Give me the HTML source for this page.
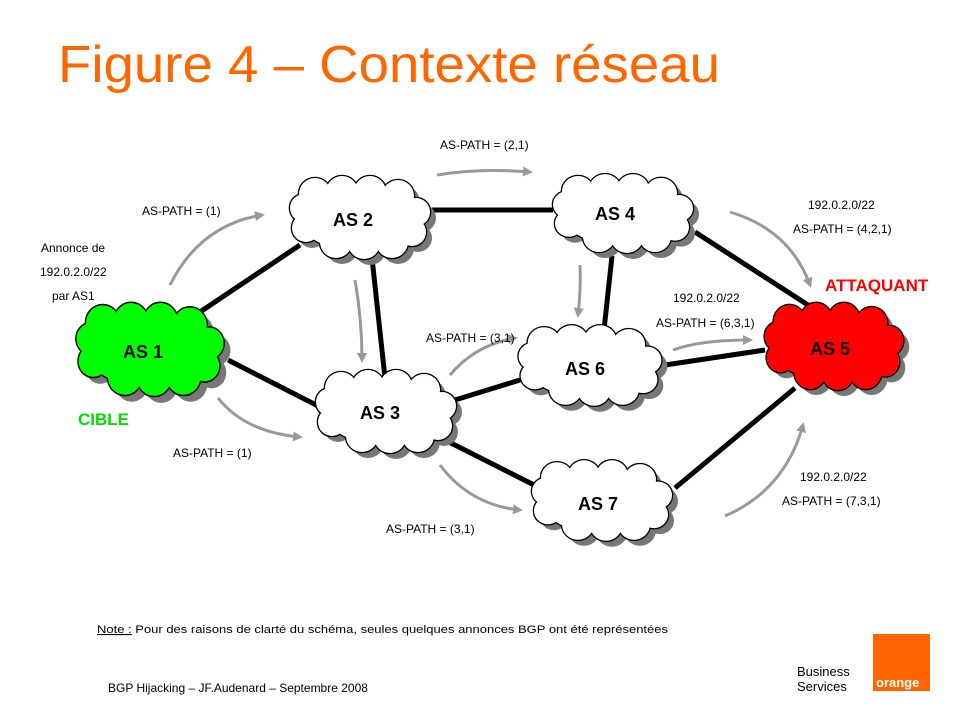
<!DOCTYPE html>
<html><head><meta charset="utf-8"><style>
body{margin:0;background:#fff;}
svg{display:block;font-family:"Liberation Sans",Arial,sans-serif;}
</style></head><body>
<svg width="960" height="720" viewBox="0 0 960 720" xmlns="http://www.w3.org/2000/svg">
<defs>
<g id="cl">
<circle cx="-45" cy="-24" r="16"/><circle cx="-18" cy="-26" r="16"/><circle cx="10" cy="-26" r="16"/><circle cx="38" cy="-22" r="16"/>
<circle cx="56" cy="-6" r="14"/><circle cx="52" cy="14" r="14"/>
<circle cx="32" cy="24" r="16"/><circle cx="4" cy="25" r="16"/><circle cx="-24" cy="24" r="16"/>
<circle cx="-54" cy="10" r="14"/><circle cx="-56" cy="-10" r="14"/>
<ellipse cx="0" cy="0" rx="61" ry="33"/>
</g>
<marker id="ar" markerWidth="10" markerHeight="10" refX="7" refY="5" orient="auto" markerUnits="userSpaceOnUse"><path d="M0,0 L10,5 L0,10 z" fill="#999"/></marker>
</defs>
<text x="58" y="82" font-size="52" fill="#ff6600" textLength="662" lengthAdjust="spacingAndGlyphs">Figure 4 – Contexte réseau</text>

<g stroke="#000" stroke-width="5" fill="none">
<line x1="200" y1="312" x2="300" y2="245"/><line x1="228" y1="360" x2="322" y2="408"/>
<line x1="432" y1="210" x2="553" y2="210"/><line x1="372" y1="258" x2="385" y2="378"/>
<line x1="695" y1="232" x2="808" y2="305"/><line x1="612" y1="256" x2="604" y2="330"/>
<line x1="455" y1="400" x2="520" y2="380"/><line x1="665" y1="365" x2="765" y2="350"/>
<line x1="445" y1="440" x2="540" y2="488"/><line x1="675" y1="488" x2="795" y2="388"/>
</g>
<g stroke="#999" stroke-width="3" fill="none" marker-end="url(#ar)">
<path d="M170,285 Q200,225 262,215"/><path d="M218,398 Q245,432 300,437"/>
<path d="M437,175 Q480,168 530,172"/><path d="M355,280 Q362,320 362,360"/>
<path d="M580,265 Q581,290 578,315"/><path d="M450,375 Q475,345 515,338"/>
<path d="M440,465 Q470,505 520,510"/><path d="M730,212 Q790,230 810,285"/>
<path d="M673,350 Q700,340 750,340"/><path d="M725,516 Q785,490 803,425"/>
</g>

<g>
<g transform="translate(157,357) scale(1.05,1.12)" fill="#777"><use href="#cl"/></g>
<g transform="translate(150,350) scale(1.05,1.12)" stroke="#000" stroke-width="2.6"><use href="#cl"/></g>
<g transform="translate(150,350) scale(1.05,1.12)" fill="#00ff00"><use href="#cl"/></g>
</g>
<g>
<g transform="translate(366,224)" fill="#777"><use href="#cl"/></g>
<g transform="translate(360,218)" stroke="#000" stroke-width="2.6"><use href="#cl"/></g>
<g transform="translate(360,218)" fill="#fff"><use href="#cl"/></g>
</g>
<g>
<g transform="translate(629,220) scale(1,0.95)" fill="#777"><use href="#cl"/></g>
<g transform="translate(623,214) scale(1,0.95)" stroke="#000" stroke-width="2.6"><use href="#cl"/></g>
<g transform="translate(623,214) scale(1,0.95)" fill="#fff"><use href="#cl"/></g>
</g>
<g>
<g transform="translate(596,372) scale(1.02,0.97)" fill="#777"><use href="#cl"/></g>
<g transform="translate(590,366) scale(1.02,0.97)" stroke="#000" stroke-width="2.6"><use href="#cl"/></g>
<g transform="translate(590,366) scale(1.02,0.97)" fill="#fff"><use href="#cl"/></g>
</g>
<g>
<g transform="translate(392,418)" fill="#777"><use href="#cl"/></g>
<g transform="translate(386,412)" stroke="#000" stroke-width="2.6"><use href="#cl"/></g>
<g transform="translate(386,412)" fill="#fff"><use href="#cl"/></g>
</g>
<g>
<g transform="translate(608,507) scale(1,0.97)" fill="#777"><use href="#cl"/></g>
<g transform="translate(602,501) scale(1,0.97)" stroke="#000" stroke-width="2.6"><use href="#cl"/></g>
<g transform="translate(602,501) scale(1,0.97)" fill="#fff"><use href="#cl"/></g>
</g>
<g>
<g transform="translate(840,353) scale(0.99,1.05)" fill="#777"><use href="#cl"/></g>
<g transform="translate(834,347) scale(0.99,1.05)" stroke="#000" stroke-width="2.6"><use href="#cl"/></g>
<g transform="translate(834,347) scale(0.99,1.05)" fill="#ff0000"><use href="#cl"/></g>
</g>

<g font-weight="bold" font-size="18" text-anchor="middle">
<text x="143" y="358">AS 1</text><text x="353" y="226">AS 2</text><text x="615" y="220">AS 4</text>
<text x="585" y="375">AS 6</text><text x="380" y="419">AS 3</text><text x="598" y="510">AS 7</text>
<text x="830" y="355">AS 5</text>
</g>
<text x="78" y="425" font-size="17" font-weight="bold" fill="#00dd00">CIBLE</text>
<text x="825" y="291" font-size="17" font-weight="bold" fill="#ff0000">ATTAQUANT</text>

<g font-size="12" fill="#000">
<text x="142" y="215">AS-PATH = (1)</text>
<text x="440" y="149">AS-PATH = (2,1)</text>
<text x="41" y="252">Annonce de</text>
<text x="40" y="276">192.0.2.0/22</text>
<text x="52" y="300">par AS1</text>
<text x="808" y="209">192.0.2.0/22</text>
<text x="793" y="233">AS-PATH = (4,2,1)</text>
<text x="673" y="302">192.0.2.0/22</text>
<text x="656" y="327">AS-PATH = (6,3,1)</text>
<text x="426" y="342">AS-PATH = (3,1)</text>
<text x="173" y="457">AS-PATH = (1)</text>
<text x="800" y="481">192.0.2.0/22</text>
<text x="782" y="505">AS-PATH = (7,3,1)</text>
<text x="386" y="533">AS-PATH = (3,1)</text>
<text x="97" y="633" font-size="11" textLength="571" lengthAdjust="spacingAndGlyphs"><tspan text-decoration="underline">Note :</tspan> Pour des raisons de clarté du schéma, seules quelques annonces BGP ont été représentées</text>
<text x="108" y="692" font-size="12">BGP Hijacking – JF.Audenard – Septembre 2008</text>
</g>
<text x="797" y="676" font-size="13">Business</text>
<text x="797" y="691" font-size="13">Services</text>
<rect x="873" y="634" width="57" height="57" fill="#ff6600"/>
<text x="876" y="687" font-size="13" font-weight="bold" fill="#fff">orange</text>
</svg>
</body></html>
